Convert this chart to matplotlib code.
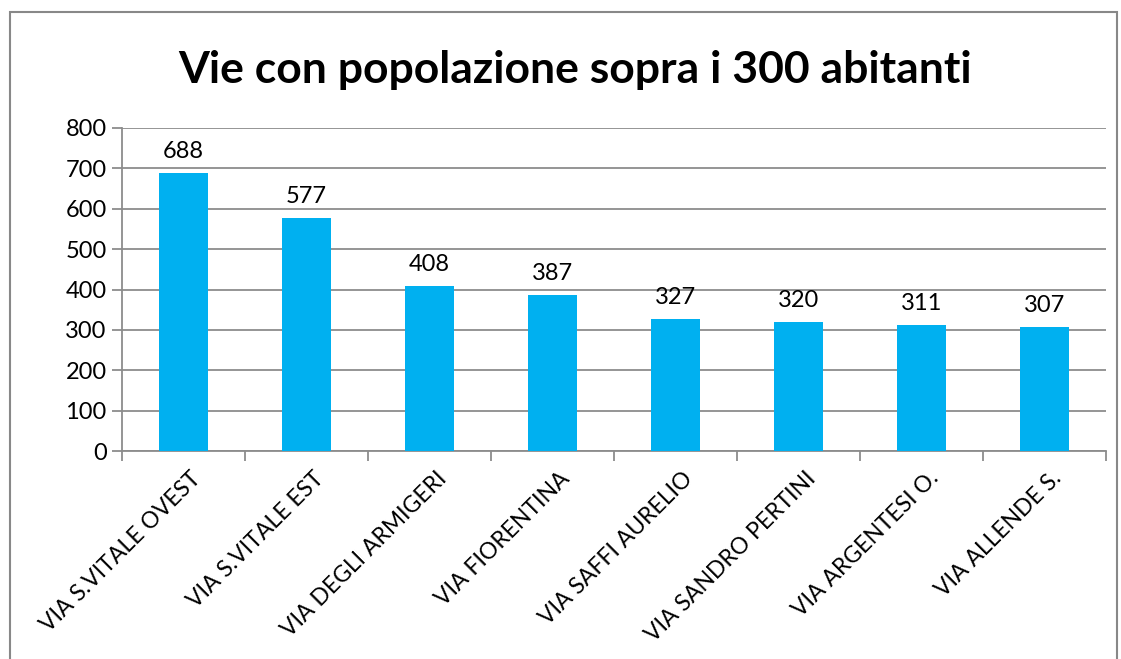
import matplotlib
matplotlib.use("Agg")
import matplotlib.pyplot as plt
from matplotlib.patches import Rectangle

categories = ["VIA S.VITALE OVEST", "VIA S.VITALE EST", "VIA DEGLI ARMIGERI", "VIA FIORENTINA",
              "VIA SAFFI AURELIO", "VIA SANDRO PERTINI", "VIA ARGENTESI O.", "VIA ALLENDE S."]
values = [688, 577, 408, 387, 327, 320, 311, 307]
yticks = [0, 100, 200, 300, 400, 500, 600, 700, 800]

plt.rcParams['font.family'] = ['Lato', 'DejaVu Sans']
W, H = 1121, 659
fig = plt.figure(figsize=(W/100, H/100), dpi=100)
fig.patches.append(Rectangle((10/W, -0.02), (1117-10)/W, (H-12)/H + 0.02, transform=fig.transFigure,
                             fill=False, edgecolor='#888888', linewidth=1.5))
ax = fig.add_axes([122/W, 1-451/H, (1106-122)/W, (451-128)/H])
x = list(range(len(categories)))
bars = ax.bar(x, values, width=0.4, color='#00B0F0', zorder=3)
ax.set_xlim(-0.5, len(categories)-0.5)
ax.set_ylim(0, 800)
ax.set_yticks(yticks)
ax.set_yticklabels([str(t) for t in yticks], fontsize=17)
ax.yaxis.grid(True, color='#8c8c8c', linewidth=1.3, zorder=0)
for s in ['top', 'right']:
    ax.spines[s].set_visible(False)
for s in ['left', 'bottom']:
    ax.spines[s].set_color('#8c8c8c')
    ax.spines[s].set_linewidth(1.3)
ax.tick_params(axis='y', length=7, width=1.3, color='#8c8c8c', pad=4)
ax.set_xticks([i - 0.5 for i in range(len(categories)+1)])
ax.set_xticklabels([])
ax.tick_params(axis='x', length=7, width=1.3, color='#8c8c8c')
for i, c in enumerate(categories):
    ax.annotate(c, xy=(i + 0.05, 0), xycoords=('data', 'axes fraction'), xytext=(0, -12),
                textcoords='offset points', rotation=45, ha='right', va='top',
                rotation_mode='anchor', fontsize=16.5)
for i, v in enumerate(values):
    ax.annotate(str(v), xy=(i, v), xytext=(0, 8), textcoords='offset points',
                ha='center', va='bottom', fontsize=17)
fig.text(575/W, 1-70/H, "Vie con popolazione sopra i 300 abitanti", ha='center', va='center',
         fontsize=32, fontweight='bold')
fig.savefig("out.png", dpi=100)
